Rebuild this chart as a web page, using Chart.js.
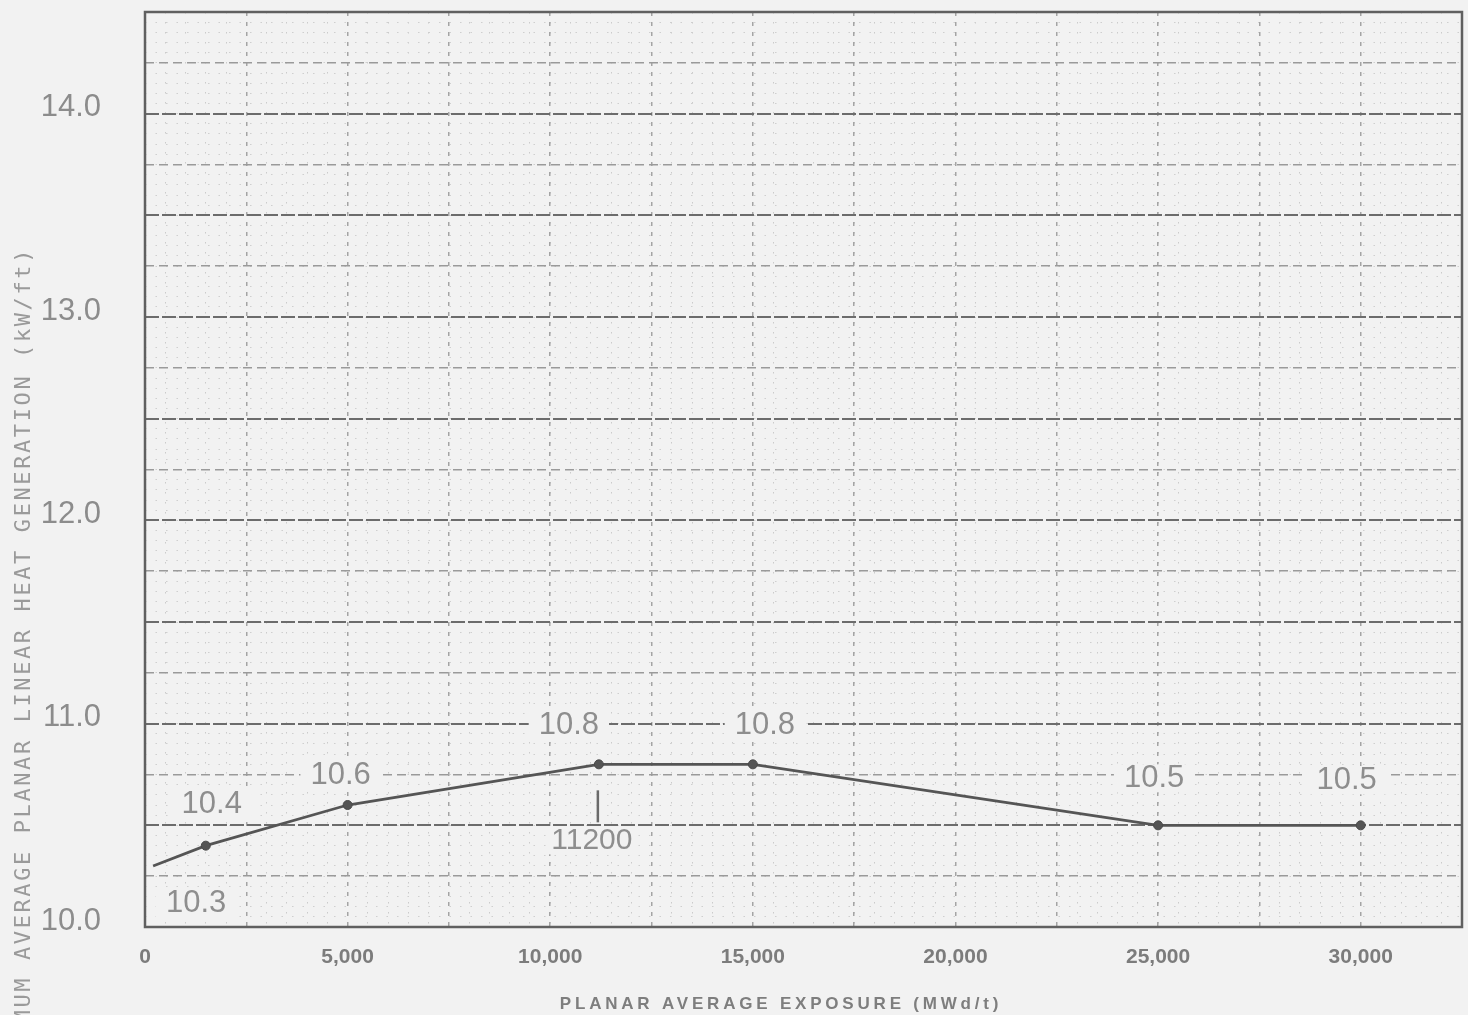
<!DOCTYPE html>
<html>
<head>
<meta charset="utf-8">
<script src="https://cdn.jsdelivr.net/npm/chart.js@4/dist/chart.umd.min.js"></script>
<style>
  html, body { margin: 0; padding: 0; background: #f2f2f2; }
  #wrap { position: relative; width: 1468px; height: 1015px; }
</style>
</head>
<body>
<div id="wrap"><canvas id="myChart"></canvas></div>
<script>
// exposure points (MWd/t) and limit values (kW/ft)
const exposure = [200, 1500, 5000, 11200, 15000, 25000, 30000];
const maplhgr = [10.3, 10.4, 10.6, 10.8, 10.8, 10.5, 10.5];
const pointLabels = ['10.3', '10.4', '10.6', '10.8', '10.8', '10.5', '10.5'];
const xTickValues = [0, 5000, 10000, 15000, 20000, 25000, 30000];
const yTickValues = [10, 11, 12, 13, 14];
const breakLabel = '11200';

const xTitle = 'PLANAR AVERAGE EXPOSURE (MWd/t)';
const yTitle = 'MAXIMUM AVERAGE PLANAR LINEAR HEAT GENERATION (kW/ft)';

const BG = '#f2f2f2';
const ctx = document.getElementById('myChart');

// label placement around each point (px), not data
const labelShift = [[43, 37], [6, -41], [-7, -30], [-30, -39], [12, -39], [-4, -47], [-14, -45]];

const near = (v, list) => list.some(t => Math.abs(t - v) < 1e-6);

// keep the plot box where the scan has it
const noPad = (s) => {
    s.paddingTop = 0;
    s.paddingBottom = 0;
    s.paddingLeft = 0;
    s.paddingRight = 0;
};

const paperPlugin = {
    id: 'paper',
    beforeDraw(chart) {
        const c = chart.ctx;
        c.save();
        c.fillStyle = BG;
        c.fillRect(0, 0, chart.width, chart.height);
        c.restore();
    },
    afterDatasetsDraw(chart) {
        const c = chart.ctx;
        const a = chart.chartArea;
        const meta = chart.getDatasetMeta(0);

        // value labels with a small gap in the grid behind them
        c.save();
        c.font = '31px "Liberation Sans", Arial, sans-serif';
        c.textAlign = 'center';
        c.textBaseline = 'middle';
        meta.data.forEach((pt, i) => {
            const lx = pt.x + labelShift[i][0];
            const ly = pt.y + labelShift[i][1];
            const w = c.measureText(pointLabels[i]).width;
            c.fillStyle = BG;
            c.fillRect(lx - w / 2 - 10, ly - 14, w + 20, 28);
            c.fillStyle = '#8e8e8e';
            c.fillText(pointLabels[i], lx, ly);
        });

        // 11200 marker
        const p = meta.data[exposure.indexOf(11200)];
        c.strokeStyle = '#6a6a6a';
        c.lineWidth = 2.5;
        c.beginPath();
        c.moveTo(p.x - 1, p.y + 26);
        c.lineTo(p.x - 1, p.y + 58);
        c.stroke();
        c.font = '30px "Liberation Sans", Arial, sans-serif';
        const bw = c.measureText(breakLabel).width;
        c.fillStyle = BG;
        c.fillRect(p.x - 7 - bw / 2 - 4, p.y + 62, bw + 8, 28);
        c.fillStyle = '#8e8e8e';
        c.fillText(breakLabel, p.x - 7, p.y + 76);
        c.restore();

        // frame
        c.save();
        c.strokeStyle = '#606060';
        c.lineWidth = 2.5;
        c.strokeRect(a.left, a.top, a.right - a.left, a.bottom - a.top);
        c.restore();
    },
    afterDraw(chart) {
        const c = chart.ctx;
        c.save();
        // x title
        c.font = 'bold 17px "Liberation Sans", Arial, sans-serif';
        c.letterSpacing = '3.8px';
        c.fillStyle = '#7e7e7e';
        c.textAlign = 'center';
        c.textBaseline = 'middle';
        c.fillText(xTitle, 781, 1004);
        // y title, runs off the bottom edge like the scan
        c.font = '22px "DejaVu Sans Mono", monospace';
        c.letterSpacing = '2.6px';
        c.fillStyle = '#9a9a9a';
        c.translate(24, 247);
        c.rotate(-Math.PI / 2);
        c.textAlign = 'right';
        c.fillText(yTitle, 0, 0);
        c.restore();
    }
};

const data = {
    datasets: [{
        data: exposure.map((x, i) => ({ x: x, y: maplhgr[i] })),
        borderColor: '#555555',
        borderWidth: 2.8,
        backgroundColor: '#555555',
        pointRadius: (c) => c.dataIndex === 0 ? 0 : 4.5,
        pointBorderWidth: 1,
        pointBorderColor: '#4a4a4a',
        tension: 0
    }]
};

new Chart(ctx, {
    type: 'line',
    data: data,
    plugins: [paperPlugin],
    options: {
        responsive: true,
        maintainAspectRatio: false,
        animation: false,
        layout: { padding: { top: 12, right: 6, left: 0, bottom: 0 } },
        plugins: {
            legend: { display: false },
            tooltip: { enabled: false },
            title: { display: false }
        },
        scales: {
            xm: {
                type: 'linear', position: 'bottom', min: 0, max: 32500, z: -2,
                afterFit: noPad,
                ticks: { display: false, stepSize: 500, autoSkip: false },
                grid: { color: '#cbcbcb', lineWidth: 1, drawTicks: false },
                border: { display: false, dash: [1.5, 8.5] }
            },
            ym: {
                type: 'linear', position: 'left', min: 10, max: 14.5, z: -2,
                afterFit: noPad,
                ticks: { display: false, stepSize: 0.05, autoSkip: false },
                grid: { color: '#cfcfcf', lineWidth: 1, drawTicks: false },
                border: { display: false, dash: [1.5, 9] }
            },
            x: {
                type: 'linear', position: 'bottom', min: 0, max: 32500, z: -1,
                afterFit: (s) => { noPad(s); s.height = 88; },
                ticks: {
                    stepSize: 2500,
                    autoSkip: false,
                    maxRotation: 0,
                    padding: 18,
                    color: '#7c7c7c',
                    font: { family: '"Liberation Sans", Arial, sans-serif', size: 21, weight: 'bold' },
                    callback: (v) => near(v, xTickValues) ? v.toLocaleString('en-US') : ''
                },
                grid: { color: '#a4a4a4', lineWidth: 1.5, drawTicks: false },
                border: { display: false, dash: [4, 6] }
            },
            y: {
                type: 'linear', position: 'left', min: 10, max: 14.5, z: -1,
                afterFit: (s) => { noPad(s); s.width = 145; },
                ticks: {
                    stepSize: 0.25,
                    autoSkip: false,
                    padding: 44,
                    labelOffset: -6,
                    color: '#8c8c8c',
                    font: { family: '"Liberation Sans", Arial, sans-serif', size: 31 },
                    callback: (v) => near(v, yTickValues) ? v.toFixed(1) : ''
                },
                grid: {
                    drawTicks: false,
                    color: (c) => Math.round(c.tick.value * 4) % 2 === 0 ? '#6c6c6c' : '#9a9a9a',
                    lineWidth: (c) => Math.round(c.tick.value * 4) % 2 === 0 ? 2 : 1.6
                },
                border: {
                    display: false,
                    dash: (c) => Math.round(c.tick.value * 4) % 2 === 0 ? [14, 3] : [9, 5]
                }
            }
        }
    }
});
</script>
</body>
</html>
